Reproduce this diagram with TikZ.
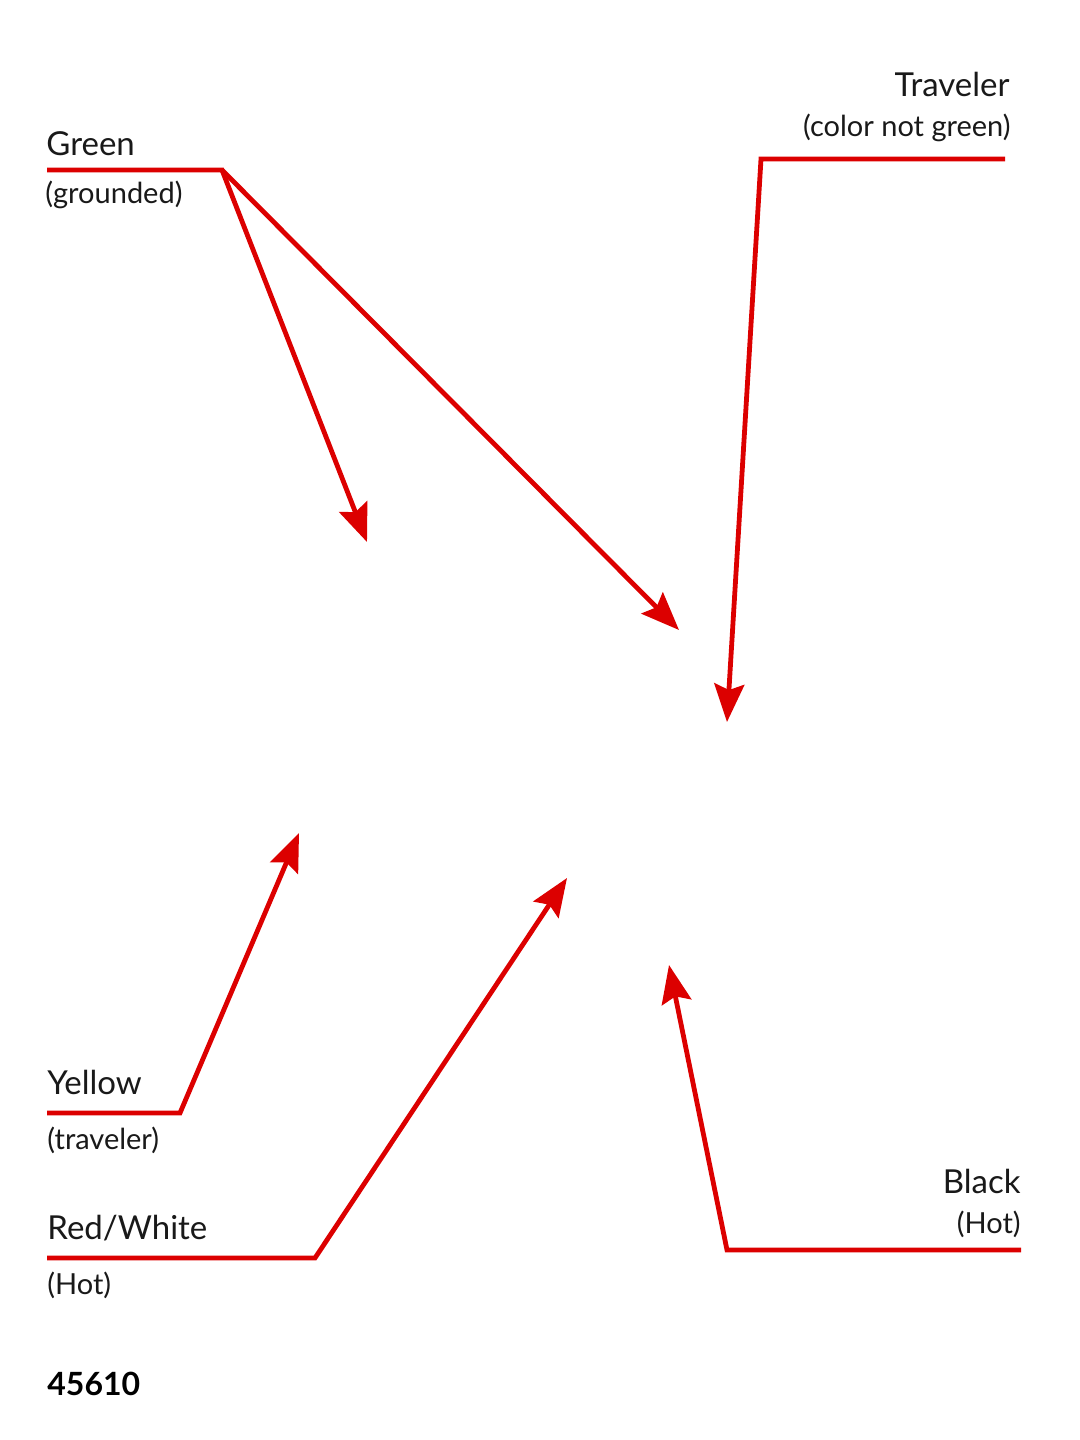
\documentclass[tikz,border=0pt]{standalone}
\usepackage{fontspec}
\setmainfont{Lato}
\usetikzlibrary{arrows.meta}
\definecolor{wire}{RGB}{220,0,0}
\definecolor{ink}{RGB}{25,25,25}
\tikzset{
  wireline/.style={draw=wire,line width=2.4pt,line join=miter},
  wirearrow/.style={wireline,-{Stealth[length=19pt,width=15pt,inset=3pt]}},
  bigtxt/.style={inner sep=0pt,text=ink,font=\fontsize{16.5}{19}\selectfont},
  smalltxt/.style={inner sep=0pt,text=ink,font=\fontsize{14.5}{17}\selectfont},
  numtxt/.style={inner sep=0pt,text=black,font=\fontsize{16}{19}\selectfont\bfseries}
}
\begin{document}
\begin{tikzpicture}[x=0.5pt,y=-0.5pt]
\useasboundingbox (0,0) rectangle (1080,1440);
% labels
\node[bigtxt,anchor=base west] (green) at (46,155) {Green};
\node[smalltxt,anchor=base west] (greensub) at (45,203) {(grounded)};
\node[bigtxt,anchor=base east] (trav) at (1010,96) {Traveler};
\node[smalltxt,anchor=base east] (travsub) at (1011,136) {(color not green)};
\node[bigtxt,anchor=base west] (yellow) at (47,1094) {Yellow};
\node[smalltxt,anchor=base west] (yellowsub) at (47,1149) {(traveler)};
\node[bigtxt,anchor=base west] (redwhite) at (47,1239) {Red/White};
\node[smalltxt,anchor=base west] (redwhitesub) at (47,1294) {(Hot)};
\node[bigtxt,anchor=base east] (black) at (1021,1193) {Black};
\node[smalltxt,anchor=base east] (blacksub) at (1021,1233) {(Hot)};
\node[numtxt,anchor=base west] (num) at (47,1395) {45610};
% coordinates
\coordinate (gA) at (47,170);
\coordinate (gB) at (222,170);
\coordinate (gT1) at (367,542);
\coordinate (gT2) at (679,630);
\coordinate (tA) at (1005,159);
\coordinate (tB) at (761,159);
\coordinate (tT) at (727,722);
\coordinate (yA) at (47,1113);
\coordinate (yB) at (180,1113);
\coordinate (yT) at (299,833);
\coordinate (rA) at (47,1258);
\coordinate (rB) at (315,1258);
\coordinate (rT) at (567,878);
\coordinate (bA) at (1021,1250);
\coordinate (bB) at (727,1250);
\coordinate (bT) at (669,965);
% wires
\draw[wirearrow] (gA) -- (gB) -- (gT1);
\draw[wirearrow] (gB) -- (gT2);
\draw[wirearrow] (tA) -- (tB) -- (tT);
\draw[wirearrow] (yA) -- (yB) -- (yT);
\draw[wirearrow] (rA) -- (rB) -- (rT);
\draw[wirearrow] (bA) -- (bB) -- (bT);
\end{tikzpicture}
\end{document}
